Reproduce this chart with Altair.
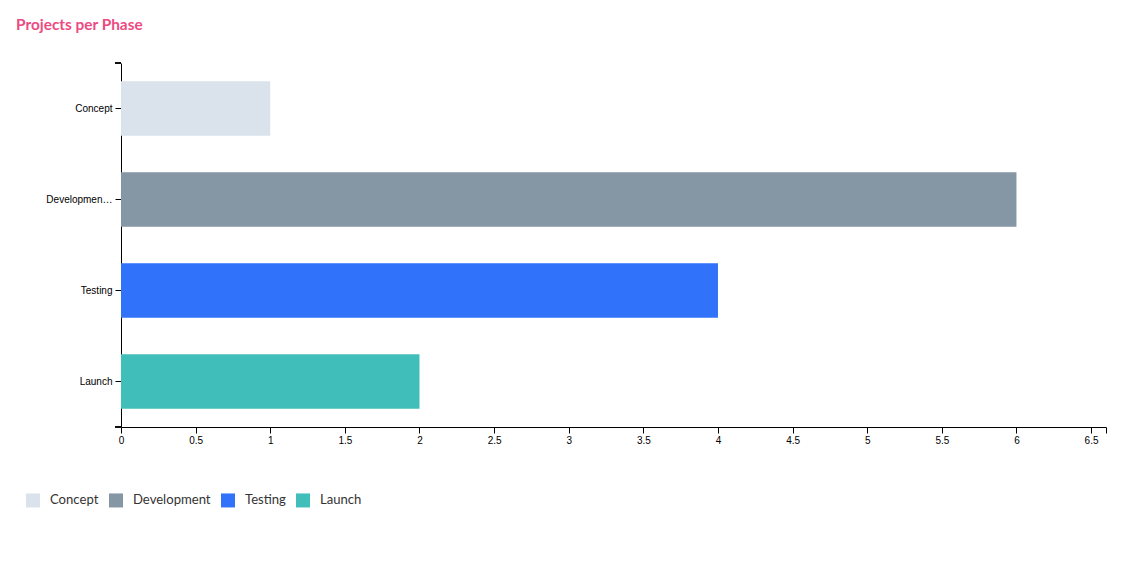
import altair as alt
import pandas as pd

phases = ["Concept", "Development", "Testing", "Launch"]
counts = [1, 6, 4, 2]
colors = ["#dae2ec", "#8596a5", "#3172fb", "#40beba"]
tick_values = [0, 0.5, 1, 1.5, 2, 2.5, 3, 3.5, 4, 4.5, 5, 5.5, 6, 6.5, 6.6]

df = pd.DataFrame({"phase": phases, "count": counts})

W, H = 985, 364

bars = alt.Chart(df).mark_bar().encode(
    y=alt.Y(
        "phase:N",
        sort=phases,
        title=None,
        scale=alt.Scale(paddingInner=0.4, paddingOuter=0.2),
        axis=alt.Axis(
            domainColor="black", tickColor="black", tickSize=6, labelColor="black",
            labelFont="Liberation Sans", labelFontSize=10, labelPadding=3,
            labelExpr="length(datum.label) > 10 ? substring(datum.label, 0, 10) + '…' : datum.label",
            grid=False,
        ),
    ),
    x=alt.X(
        "count:Q",
        title=None,
        scale=alt.Scale(domain=[0, 6.6], nice=False, zero=True),
        axis=alt.Axis(
            values=tick_values,
            labelExpr="datum.value > 6.55 ? '' : datum.label",
            format="~g",
            domainColor="black", tickColor="black", tickSize=6, labelColor="black",
            labelFont="Liberation Sans", labelFontSize=10, labelPadding=2,
            grid=False, labelFlush=False, labelOverlap=False,
        ),
    ),
    color=alt.Color(
        "phase:N",
        sort=phases,
        scale=alt.Scale(domain=phases, range=colors),
        legend=alt.Legend(
            orient="none", legendX=-95, legendY=430, direction="horizontal", title=None,
            symbolType="square", symbolSize=196, symbolStrokeWidth=0,
            labelFont="Lato", labelFontSize=13.1, labelColor="#333333",
            labelOffset=10, columnPadding=10,
        ),
    ),
)

outer_top = alt.Chart(df).mark_rule(color="black", strokeWidth=1).encode(
    x=alt.value(-6), x2=alt.value(0), y=alt.value(0)
)
outer_bottom = alt.Chart(df).mark_rule(color="black", strokeWidth=1).encode(
    x=alt.value(-6), x2=alt.value(0), y=alt.value(H)
)

chart = alt.layer(bars, outer_top, outer_bottom).properties(
    width=W,
    height=H,
    title=alt.TitleParams(
        "Projects per Phase", anchor="start", frame="group", dx=-105, offset=29,
        font="Lato", fontSize=15.4, fontWeight="bold", color="#ec4b82",
    ),
    autosize=alt.AutoSizeParams(type="none"),
    padding={"left": 113, "top": 55, "right": 14, "bottom": 131},
    background="white",
).configure_view(stroke=None)

chart.save("out.html", embed_options={"renderer": "svg", "actions": False})
